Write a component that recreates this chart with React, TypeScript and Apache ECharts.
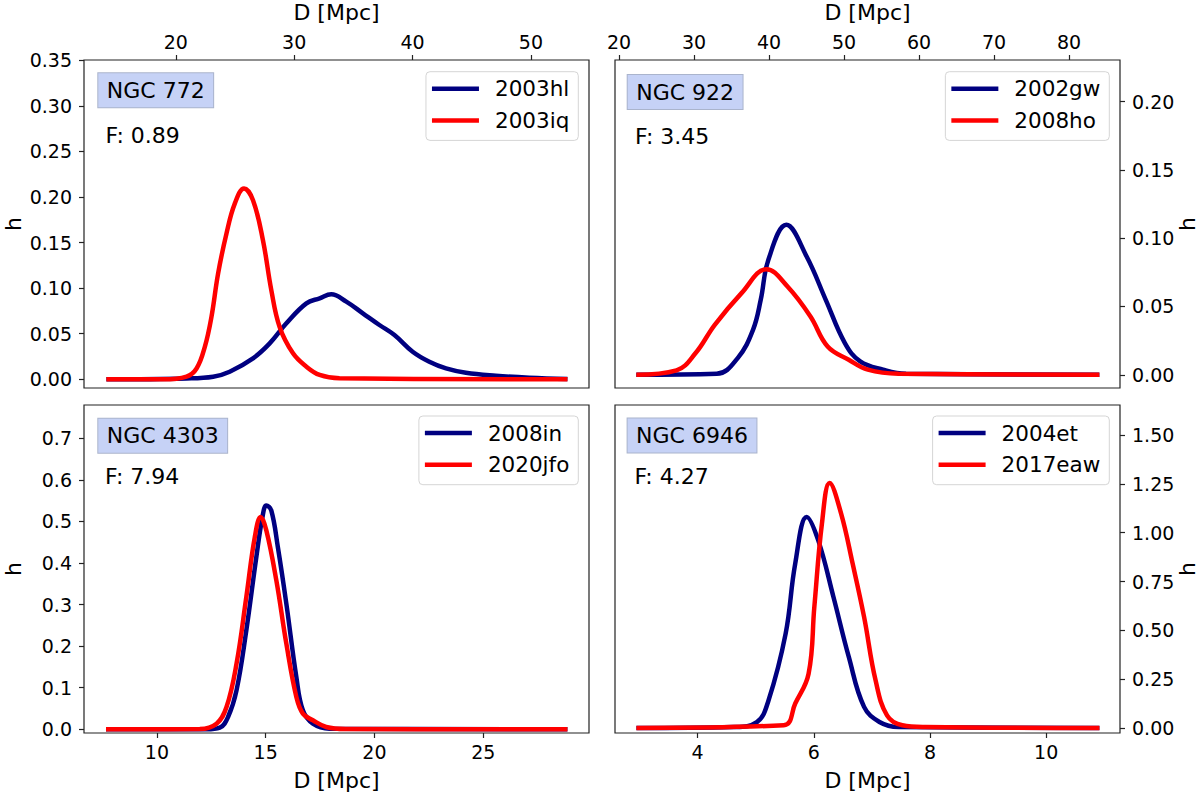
import React, { useEffect, useRef } from 'react';
import * as echarts from 'echarts';

const FONT = 'DejaVu Sans';
const BLUE = '#000080';
const RED = '#ff0000';

// NGC 772
const sn2003hl: number[][] = [
  [14.13, 0], [20.9, 0.001], [23.15, 0.0029], [24.55, 0.0084], [26.52, 0.023], [27.93, 0.0394],
  [29.34, 0.0614], [31.03, 0.0833], [32.15, 0.0888], [33.13, 0.0932], [34.4, 0.0852], [35.8, 0.0724],
  [37.2, 0.0596], [38.47, 0.0486], [40.01, 0.0303], [41.42, 0.0193], [42.83, 0.012], [44.51, 0.0072],
  [47.04, 0.004], [49.86, 0.0018], [53.09, 0.0003],
];
const sn2003iq: number[][] = [
  [14.13, 0], [18.93, 0], [20.9, 0.003], [21.75, 0.0119], [22.45, 0.0357], [23.01, 0.0686],
  [23.57, 0.116], [24.28, 0.16], [24.98, 0.1927], [25.76, 0.2092], [26.52, 0.1964], [27.36, 0.1525],
  [28.07, 0.0976], [28.77, 0.0574], [29.9, 0.0285], [31.03, 0.0139], [32.15, 0.0048], [33.83, 0.0011],
  [53.09, 0],
];

// NGC 922
const sn2002gw: number[][] = [
  [22.31, 0], [33.03, 0.0007], [35.83, 0.0122], [37.87, 0.0329], [38.9, 0.0549], [39.92, 0.0842],
  [42.31, 0.1098], [45.02, 0.0866], [47.57, 0.0549], [50.12, 0.0232], [52.16, 0.0098], [55.22, 0.0037],
  [58.28, 0.0007], [84.05, 0],
];
const sn2008ho: number[][] = [
  [22.31, 0], [27.67, 0.0032], [30.22, 0.0159], [32.77, 0.0366], [36.34, 0.0598], [39.66, 0.0773],
  [42.47, 0.0646], [45.53, 0.0427], [47.82, 0.0207], [50.63, 0.011], [53.18, 0.0037], [57.26, 0.0007],
  [84.05, 0],
];

// NGC 4303
const sn2008in: number[][] = [
  [7.66, 0], [12.28, 0], [12.89, 0.004], [13.27, 0.0296], [13.66, 0.0937], [14.11, 0.238],
  [14.57, 0.4142], [14.85, 0.51], [15.03, 0.5385], [15.26, 0.526], [15.56, 0.4381], [15.95, 0.3021],
  [16.41, 0.1258], [16.71, 0.0457], [17.17, 0.0136], [17.94, 0.0016], [28.87, 0],
];
const sn2020jfo: number[][] = [
  [7.66, 0], [11.97, 0.0008], [12.74, 0.0136], [13.2, 0.0537], [13.66, 0.1578], [14.11, 0.3181],
  [14.5, 0.4623], [14.77, 0.5104], [15.03, 0.4784], [15.49, 0.3582], [15.95, 0.2059], [16.41, 0.0777],
  [16.71, 0.0377], [17.17, 0.0216], [17.78, 0.0056], [18.7, 0.0008], [28.87, 0],
];

// NGC 6946
const sn2004et: number[][] = [
  [2.946, 0], [4.625, 0.005], [5.02, 0.03], [5.22, 0.141], [5.515, 0.483], [5.68, 0.842],
  [5.877, 1.081], [6.075, 0.962], [6.338, 0.671], [6.602, 0.364], [6.865, 0.108], [7.13, 0.031],
  [7.458, 0.005], [10.916, 0],
];
const sn2017eaw: number[][] = [
  [2.946, 0], [5.482, 0.014], [5.68, 0.125], [5.91, 0.278], [6.009, 0.62], [6.14, 1.047],
  [6.272, 1.255], [6.47, 1.098], [6.668, 0.842], [6.865, 0.569], [7.063, 0.244], [7.26, 0.065],
  [7.524, 0.014], [7.92, 0.005], [10.916, 0],
];

const galaxies = ['NGC 772', 'NGC 922', 'NGC 4303', 'NGC 6946'];
const fValues = ['0.89', '3.45', '7.94', '4.27'];
const blueNames = ['2003hl', '2002gw', '2008in', '2004et'];
const redNames = ['2003iq', '2008ho', '2020jfo', '2017eaw'];
const blueData = [sn2003hl, sn2002gw, sn2008in, sn2004et];
const redData = [sn2003iq, sn2008ho, sn2020jfo, sn2017eaw];
const xTicks = [[20, 30, 40, 50], [20, 30, 40, 50, 60, 70, 80], [10, 15, 20, 25], [4, 6, 8, 10]];
const yTicks = [
  [0, 0.05, 0.1, 0.15, 0.2, 0.25, 0.3, 0.35],
  [0, 0.05, 0.1, 0.15, 0.2],
  [0, 0.1, 0.2, 0.3, 0.4, 0.5, 0.6, 0.7],
  [0, 0.25, 0.5, 0.75, 1, 1.25, 1.5],
];
const yDecimals = [2, 2, 1, 2];
const xExtent = [[12.24, 54.91], [19.47, 86.8], [6.65, 29.86], [2.578, 11.27]];
const yExtent = [[-0.0095, 0.3502], [-0.0097, 0.2305], [-0.0089, 0.78], [-0.0256, 1.654]];

// panel geometry (px)
const panels = [
  { left: 84, top: 60, box: [98.3, 90.3], f: [105.5, 135.2], legendRight: 621.7, legendTop: 71.7 },
  { left: 615, top: 60, box: [627.7, 92], f: [635, 136.5], legendRight: 90.7, legendTop: 71.7 },
  { left: 84, top: 405, box: [98.3, 435.8], f: [105, 476.9], legendRight: 621.7, legendTop: 416 },
  { left: 615, top: 405, box: [627.6, 435.5], f: [634.4, 476.9], legendRight: 90.7, legendTop: 416 },
];

const App: React.FC = () => {
  const ref = useRef<HTMLDivElement>(null);

  useEffect(() => {
    if (!ref.current) return;
    const chart = echarts.init(ref.current, null, { renderer: 'svg' });

    const grid = panels.map((p) => ({
      left: p.left, top: p.top, width: 505, height: 328,
      show: true, borderColor: '#222', borderWidth: 1.2, backgroundColor: 'transparent',
      outerBoundsMode: 'none',
    }));

    const xAxis = panels.map((_, i) => ({
      type: 'value', gridIndex: i, position: i < 2 ? 'top' : 'bottom',
      min: xExtent[i][0], max: xExtent[i][1],
      name: 'D [Mpc]', nameLocation: 'middle', nameGap: i < 2 ? 37 : 36,
      nameTextStyle: { fontFamily: FONT, fontSize: 22, color: '#000' },
      axisLine: { show: false, onZero: false },
      splitLine: { show: false },
      axisTick: { show: true, length: 5, customValues: xTicks[i], lineStyle: { color: '#222', width: 1.2 } },
      axisLabel: { customValues: xTicks[i], fontFamily: FONT, fontSize: 19, color: '#000', margin: 9,
        formatter: (v: number) => String(v) },
    }));

    const yAxis = panels.map((_, i) => ({
      type: 'value', gridIndex: i, position: i % 2 === 0 ? 'left' : 'right',
      min: yExtent[i][0], max: yExtent[i][1],
      name: 'h', nameLocation: 'middle', nameGap: i % 2 === 0 ? 60 : 56, nameRotate: 90,
      nameMoveOverlap: false,
      nameTextStyle: { fontFamily: FONT, fontSize: 22, color: '#000' },
      axisLine: { show: false, onZero: false },
      splitLine: { show: false },
      axisTick: { show: true, length: 5, customValues: yTicks[i], lineStyle: { color: '#222', width: 1.2 } },
      axisLabel: { customValues: yTicks[i], fontFamily: FONT, fontSize: 19, color: '#000', margin: 12,
        formatter: (v: number) => v.toFixed(yDecimals[i]) },
    }));

    const series: any[] = [];
    panels.forEach((_, i) => {
      [[blueNames[i], blueData[i], BLUE], [redNames[i], redData[i], RED]].forEach(([name, data, color]) => {
        series.push({
          type: 'line', name, data, xAxisIndex: i, yAxisIndex: i,
          showSymbol: false, smooth: 0.4, silent: true,
          lineStyle: { color, width: 4.5 }, itemStyle: { color },
        });
      });
    });

    const legend = panels.map((p, i) => ({
      data: [blueNames[i], redNames[i]],
      orient: 'vertical', right: p.legendRight, top: p.legendTop,
      icon: 'rect', itemWidth: 47, itemHeight: 4.5, itemGap: 9.7,
      padding: [6, 9, 9, 6], backgroundColor: '#fff', borderColor: '#d5d5d5', borderWidth: 1, borderRadius: 4,
      selectedMode: false,
      textStyle: { fontFamily: FONT, fontSize: 21.5, color: '#000', lineHeight: 22, padding: [0, 0, 0, 11] },
    }));

    const elements: any[] = [];
    panels.forEach((p, i) => {
      elements.push({
        type: 'text', x: p.box[0], y: p.box[1], silent: true,
        style: {
          text: galaxies[i], fontFamily: FONT, fontSize: 22, fill: '#000',
          backgroundColor: '#c6d2f6', borderColor: '#aab4cc', borderWidth: 1,
          padding: [6, 8.5, 6, 8.5], align: 'left', verticalAlign: 'middle', lineHeight: 22,
        },
      });
      elements.push({
        type: 'text', x: p.f[0], y: p.f[1], silent: true,
        style: { text: `F: ${fValues[i]}`, fontFamily: FONT, fontSize: 22, fill: '#000', align: 'left', verticalAlign: 'middle' },
      });
    });

    chart.setOption({
      animation: false,
      backgroundColor: '#fff',
      textStyle: { fontFamily: FONT },
      grid, xAxis, yAxis, series, legend,
      graphic: { elements },
    });

    return () => chart.dispose();
  }, []);

  return (
    <div
      ref={ref}
      style={{ position: 'absolute', left: 0, top: 0, width: 1200, height: 792, fontFamily: FONT }}
    />
  );
};

export default App;
